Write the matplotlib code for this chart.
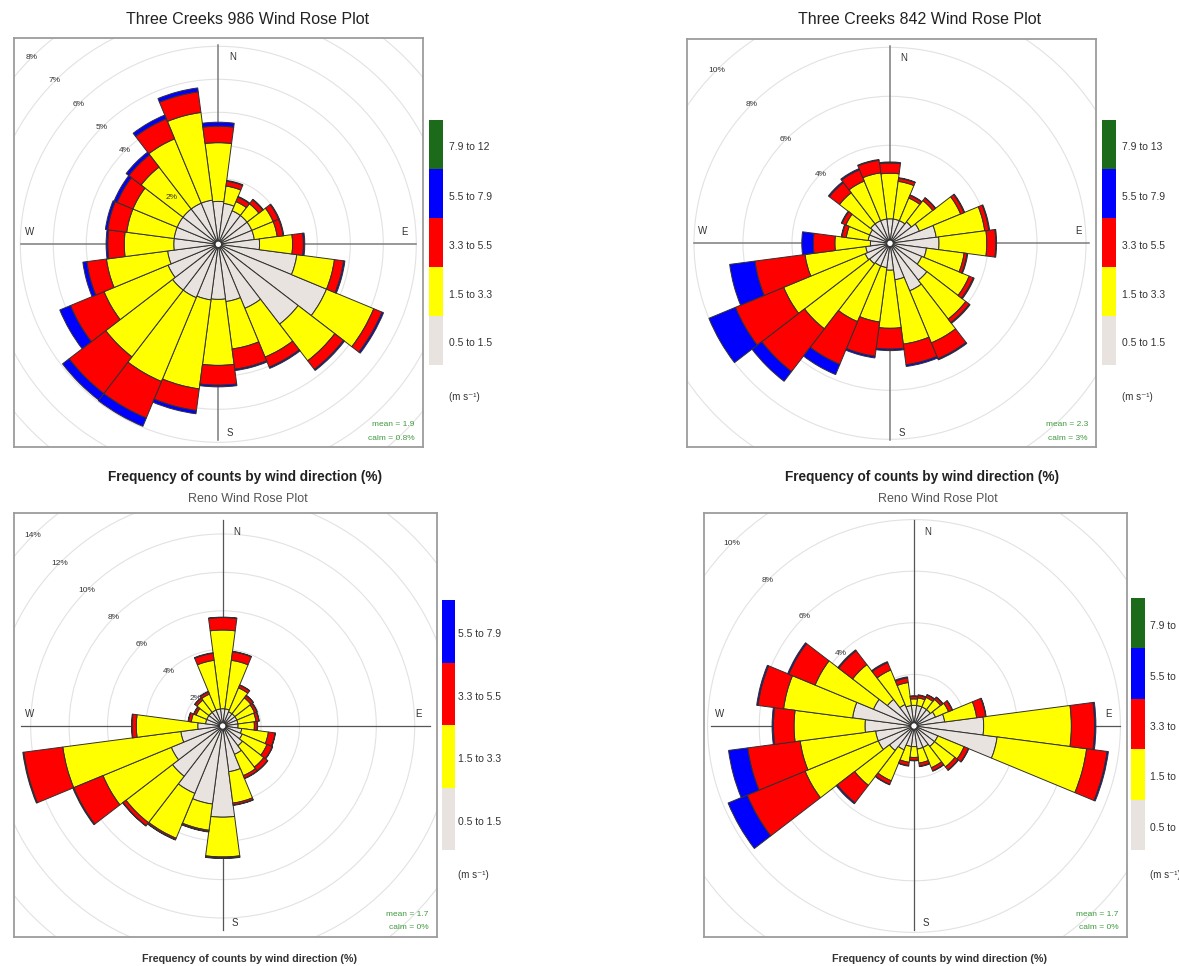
import numpy as np
import matplotlib
matplotlib.use("Agg")
import matplotlib.pyplot as plt
from matplotlib.patches import Wedge, Circle

plt.rcParams['font.family'] = ['Liberation Sans', 'DejaVu Sans']

W, H = 1179, 966
fig = plt.figure(figsize=(W / 100, H / 100), dpi=100)

# ---------------- data (frequency %, per 15-degree sector, clockwise from N) -------------
directions = [0, 15, 30, 45, 60, 75, 90, 105, 120, 135, 150, 165,
              180, 195, 210, 225, 240, 255, 270, 285, 300, 315, 330, 345]

tc986_grey = [1.30, 1.25, 1.10, 1.10, 1.10, 1.10, 1.25, 2.40, 3.55, 3.05, 2.10, 1.75,
              1.67, 1.70, 1.75, 1.75, 1.65, 1.55, 1.35, 1.35, 1.35, 1.35, 1.35, 1.35]
tc986_yellow = [1.78, 0.53, 0.30, 0.45, 0.70, 0.70, 1.00, 1.15, 1.55, 1.40, 1.60, 1.45,
                2.00, 2.72, 2.75, 2.55, 2.10, 1.87, 1.50, 1.45, 1.45, 1.60, 2.11, 2.68]
tc986_red = [0.50, 0.15, 0.15, 0.15, 0.18, 0.18, 0.33, 0.28, 0.27, 0.33, 0.33, 0.62,
             0.60, 0.66, 1.20, 1.40, 1.10, 0.60, 0.50, 0.58, 0.52, 0.47, 0.66, 0.63]
tc986_blue = [0.12, 0.02, 0.02, 0.02, 0.02, 0.02, 0.04, 0.04, 0.05, 0.04, 0.04, 0.04,
              0.05, 0.10, 0.27, 0.25, 0.35, 0.12, 0.05, 0.07, 0.10, 0.10, 0.12, 0.12]

tc842_grey = [1.00, 1.00, 1.00, 1.10, 1.30, 1.90, 2.00, 1.50, 1.40, 1.90, 2.10, 1.50,
              1.10, 1.00, 1.00, 1.05, 1.10, 1.00, 0.80, 0.90, 0.90, 1.00, 1.00, 1.00]
tc842_yellow = [1.86, 1.55, 1.00, 1.10, 1.82, 2.00, 1.95, 1.55, 2.10, 2.00, 2.30, 2.65,
                2.37, 2.24, 2.46, 3.35, 3.60, 2.50, 1.45, 0.90, 1.05, 1.60, 1.75, 1.90]
tc842_red = [0.42, 0.13, 0.12, 0.13, 0.15, 0.17, 0.37, 0.12, 0.18, 0.18, 0.70, 0.85,
             0.85, 1.41, 1.89, 2.20, 2.13, 2.06, 0.88, 0.18, 0.17, 0.52, 0.50, 0.52]
tc842_blue = [0.04, 0.02, 0.02, 0.02, 0.03, 0.03, 0.03, 0.03, 0.04, 0.04, 0.05, 0.07,
              0.06, 0.07, 0.45, 0.50, 1.17, 1.04, 0.47, 0.02, 0.03, 0.05, 0.05, 0.03]

renoA_grey = [0.90, 0.90, 0.80, 0.80, 0.80, 0.80, 0.80, 1.00, 1.10, 1.30, 1.60, 2.40,
              4.75, 4.10, 3.80, 3.30, 2.90, 2.20, 1.30, 0.90, 0.90, 0.90, 0.90, 0.90]
renoA_yellow = [4.10, 2.55, 1.35, 1.05, 1.00, 0.95, 0.85, 1.40, 1.40, 1.40, 1.20, 1.65,
                2.07, 1.38, 2.53, 3.05, 3.85, 6.20, 3.20, 0.75, 0.60, 0.80, 0.90, 2.55]
renoA_red = [0.65, 0.45, 0.15, 0.15, 0.13, 0.15, 0.15, 0.35, 0.30, 0.25, 0.15, 0.10,
             0.06, 0.07, 0.08, 0.20, 1.65, 2.05, 0.22, 0.15, 0.12, 0.13, 0.13, 0.37]
renoA_blue = [0.02, 0.02, 0.02, 0.02, 0.02, 0.02, 0.02, 0.02, 0.02, 0.02, 0.02, 0.02,
              0.02, 0.02, 0.02, 0.02, 0.05, 0.05, 0.03, 0.02, 0.02, 0.02, 0.02, 0.03]

renoB_grey = [0.80, 0.80, 0.80, 0.80, 0.90, 1.20, 2.70, 3.25, 1.00, 1.00, 0.90, 0.90,
              0.80, 0.80, 1.00, 1.20, 1.50, 1.50, 1.90, 2.40, 1.70, 1.30, 0.90, 0.80]
renoB_yellow = [0.25, 0.30, 0.40, 0.50, 0.55, 1.25, 3.40, 3.50, 1.10, 1.00, 0.85, 0.55,
                0.42, 0.62, 1.30, 1.70, 3.07, 2.95, 2.75, 2.70, 2.45, 1.70, 1.45, 0.90]
renoB_red = [0.10, 0.10, 0.10, 0.10, 0.15, 0.35, 0.90, 0.80, 0.18, 0.15, 0.13, 0.12,
             0.11, 0.13, 0.15, 0.85, 2.43, 2.05, 0.80, 1.00, 1.10, 0.68, 0.31, 0.18]
renoB_blue = [0.02, 0.02, 0.02, 0.02, 0.02, 0.02, 0.05, 0.05, 0.02, 0.02, 0.02, 0.02,
              0.02, 0.02, 0.02, 0.05, 0.80, 0.75, 0.05, 0.05, 0.05, 0.04, 0.04, 0.04]

bins_986 = ["0.5 to 1.5", "1.5 to 3.3", "3.3 to 5.5", "5.5 to 7.9", "7.9 to 12"]
bins_842 = ["0.5 to 1.5", "1.5 to 3.3", "3.3 to 5.5", "5.5 to 7.9", "7.9 to 13"]
bins_renoA = ["0.5 to 1.5", "1.5 to 3.3", "3.3 to 5.5", "5.5 to 7.9"]
bins_renoB = ["0.5 to 1.5", "1.5 to 3.3", "3.3 to 5.5", "5.5 to 7.9", "7.9 to 12"]

# ---------------- style ----------------
GREY, YEL, RED, BLU, GRN = '#e9e3df', '#ffff00', '#ff0000', '#0000ff', '#1b6b1b'
CLASS_COLORS = [GREY, YEL, RED, BLU, GRN]
SECTOR = 15.0


def px_axes(x0, y0, x1, y1):
    return fig.add_axes([x0 / W, 1 - y1 / H, (x1 - x0) / W, (y1 - y0) / H])


def draw_rose(box, center, scale, series, rings, ring_labels, mean_txt, calm_txt,
              cross_color, cross_lw):
    x0, y0, x1, y1 = box
    cx, cy = center
    ax = px_axes(*box)
    ax.set_xlim((x0 - cx) / scale, (x1 - cx) / scale)
    ax.set_ylim((cy - y1) / scale, (cy - y0) / scale)
    ax.set_xticks([])
    ax.set_yticks([])
    for sp in ax.spines.values():
        sp.set_color('#9c9c9c')
        sp.set_linewidth(1.3)
    for r in rings:
        ax.add_patch(Circle((0, 0), r, fill=False, ec='#e2e2e2', lw=0.8, zorder=1))
    ax.axhline(0, xmin=0.017, xmax=0.983, color=cross_color, lw=cross_lw, zorder=2)
    ax.axvline(0, ymin=0.017, ymax=0.983, color=cross_color, lw=cross_lw, zorder=2)

    cum = np.zeros(len(directions))
    for vals, col in zip(series, CLASS_COLORS):
        vals = np.asarray(vals, dtype=float)
        for d, inner, v in zip(directions, cum, vals):
            if v <= 0:
                continue
            t1 = 90 - d - SECTOR / 2
            t2 = 90 - d + SECTOR / 2
            ax.add_patch(Wedge((0, 0), inner + v, t1, t2, width=v, fc=col,
                               ec='#303030', lw=0.7, zorder=3))
        cum = cum + vals
    ax.add_patch(Circle((0, 0), 3.2 / scale, fc='white', ec='#303030', lw=0.7, zorder=4))

    s45 = np.sqrt(0.5)
    for r in ring_labels:
        ax.text(-r * s45, r * s45, f"{r}%", ha='center', va='center', fontsize=6,
                color='#333333', zorder=6, clip_on=True)

    def d(px, py):
        return (px - cx) / scale, (cy - py) / scale
    kw = dict(ha='center', va='center', fontsize=7, color='#333333', zorder=6)
    ax.text(*d(cx + 14, y0 + 19), "N", **kw)
    ax.text(*d(cx + 12, y1 - 14), "S", **kw)
    ax.text(*d(x0 + 16, cy - 12), "W", **kw)
    ax.text(*d(x1 - 18, cy - 12), "E", **kw)

    ax.text(0.98, 0.054, mean_txt, transform=ax.transAxes, ha='right', va='center',
            fontsize=6, color='#3f9a3f', zorder=6)
    ax.text(0.98, 0.022, calm_txt, transform=ax.transAxes, ha='right', va='center',
            fontsize=6, color='#3f9a3f', zorder=6)
    return ax


def draw_key(box, labels, label_x, unit_y):
    x0, y0, x1, y1 = box
    n = len(labels)
    cols = CLASS_COLORS[:n]
    kax = px_axes(*box)
    kax.bar([0] * n, [1] * n, bottom=list(range(n)), width=1.0, color=cols,
            edgecolor='none')
    kax.set_xlim(-0.5, 0.5)
    kax.set_ylim(0, n)
    kax.axis('off')
    seg = (y1 - y0) / n
    for i, lab in enumerate(labels):
        yc = y1 - (i + 0.5) * seg + 3
        fig.text(label_x / W, 1 - yc / H, lab, ha='left', va='center',
                 fontsize=7.5, color='#333333')
    fig.text(label_x / W, 1 - unit_y / H, "(m s\u207b\u00b9)", ha='left', va='center',
             fontsize=7, color='#333333')


# ---------------- panels ----------------
draw_rose((14, 38, 423, 447), (218.3, 244.3), 33.0,
          [tc986_grey, tc986_yellow, tc986_red, tc986_blue],
          [1, 2, 3, 4, 5, 6, 7, 8], [2, 4, 5, 6, 7, 8],
          "mean = 1.9", "calm = 0.8%", '#7c7c7c', 1.1)
draw_key((429, 120, 443, 365), bins_986, 449, 397)

draw_rose((687, 39, 1096, 447), (890.0, 243.3), 24.5,
          [tc842_grey, tc842_yellow, tc842_red, tc842_blue],
          [2, 4, 6, 8, 10], [4, 6, 8, 10],
          "mean = 2.3", "calm = 3%", '#7c7c7c', 1.1)
draw_key((1102, 120, 1116, 365), bins_842, 1122, 397)

draw_rose((14, 513, 437, 937), (222.7, 726.0), 19.2,
          [renoA_grey, renoA_yellow, renoA_red, renoA_blue],
          [2, 4, 6, 8, 10, 12, 14], [2, 4, 6, 8, 10, 12, 14],
          "mean = 1.7", "calm = 0%", '#555555', 0.9)
draw_key((442, 600, 455, 850), bins_renoA, 458, 875)

draw_rose((704, 513, 1127, 937), (914.0, 726.0), 25.8,
          [renoB_grey, renoB_yellow, renoB_red, renoB_blue],
          [2, 4, 6, 8, 10], [4, 6, 8, 10],
          "mean = 1.7", "calm = 0%", '#555555', 0.9)
draw_key((1131, 598, 1145, 850), bins_renoB, 1150, 875)

# ---------------- titles ----------------
def ftext(x, y, s, **kw):
    fig.text(x / W, 1 - y / H, s, ha='center', va='center', **kw)

ftext(248, 20, "Three Creeks 986 Wind Rose Plot", fontsize=11.5, color='#222222')
ftext(920, 20, "Three Creeks 842 Wind Rose Plot", fontsize=11.5, color='#222222')
ftext(245, 477, "Frequency of counts by wind direction (%)", fontsize=9.8,
      fontweight='bold', color='#222222')
ftext(922, 477, "Frequency of counts by wind direction (%)", fontsize=9.8,
      fontweight='bold', color='#222222')
ftext(248, 499, "Reno Wind Rose Plot", fontsize=9, color='#555555')
ftext(938, 499, "Reno Wind Rose Plot", fontsize=9, color='#555555')
ftext(250, 959, "Frequency of counts by wind direction (%)", fontsize=7.7,
      fontweight='bold', color='#333333')
ftext(940, 959, "Frequency of counts by wind direction (%)", fontsize=7.7,
      fontweight='bold', color='#333333')

fig.savefig("out.png", dpi=100, facecolor='white')
